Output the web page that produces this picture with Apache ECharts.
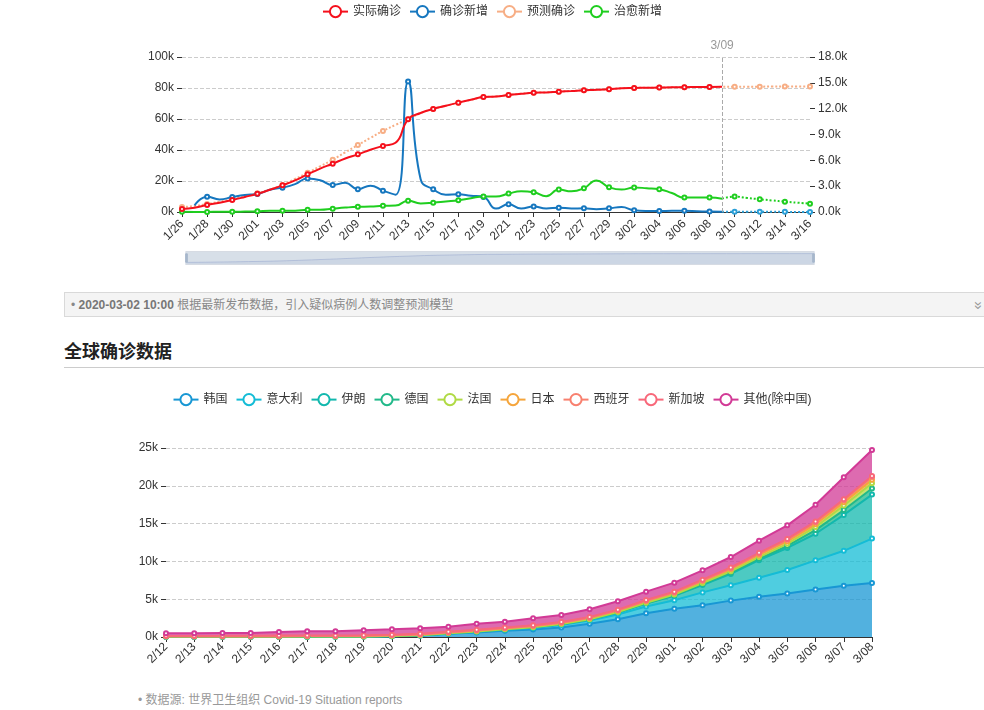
<!DOCTYPE html>
<html>
<head>
<meta charset="utf-8">
<title>疫情趋势</title>
<script src="https://cdn.jsdelivr.net/npm/echarts@6/dist/echarts.min.js"></script>
<style>
    html, body { margin: 0; padding: 0; background: #fff; overflow: hidden; }
    body { width: 984px; height: 710px; position: relative; font-family: "Liberation Sans", "Noto Sans CJK SC", sans-serif; }
    #trend { position: absolute; left: 0; top: 0; width: 984px; height: 285px; }
    #notice { position: absolute; left: 64px; top: 292px; width: 960px; height: 25px; line-height: 25px;
        background: #f4f4f4; border: 1px solid #d9d9d9; font-size: 12px; color: #888; box-sizing: border-box; padding-left: 6px; }
    #notice b { color: #777; }
    #notice .more { position: absolute; left: 910px; top: 0; color: #999; font-size: 15px; line-height: 25px;
        display: inline-block; transform: rotate(90deg); }
    #title { position: absolute; left: 64px; top: 338px; width: 960px; height: 29px; border-bottom: 1px solid #ccc;
        font-size: 18px; font-weight: bold; color: #222; line-height: 28px; }
    #world { position: absolute; left: 0; top: 380px; width: 984px; height: 300px; }
    #source { position: absolute; left: 138px; top: 690px; font-size: 12px; color: #999; }
</style>
</head>
<body>
<div id="trend"></div>
<div id="notice">• <b>2020-03-02 10:00</b> 根据最新发布数据，引入疑似病例人数调整预测模型<span class="more">»</span></div>
<div id="title">全球确诊数据</div>
<div id="world"></div>
<div id="source">• 数据源: 世界卫生组织 Covid-19 Situation reports</div>

<script>
var FONT = '"Liberation Sans", "Noto Sans CJK SC", sans-serif';

// ---- 国内趋势 ----
var days = ['1/26','1/27','1/28','1/29','1/30','1/31',
    '2/01','2/02','2/03','2/04','2/05','2/06','2/07','2/08','2/09','2/10',
    '2/11','2/12','2/13','2/14','2/15','2/16','2/17','2/18','2/19','2/20',
    '2/21','2/22','2/23','2/24','2/25','2/26','2/27','2/28','2/29',
    '3/01','3/02','3/03','3/04','3/05','3/06','3/07','3/08','3/09','3/10',
    '3/11','3/12','3/13','3/14','3/15','3/16'];

var actual = [1975,2744,4515,5974,7711,9692,
    11791,14380,17205,20438,24324,28018,31161,34546,37198,40171,
    42638,44653,59804,63851,66492,68500,70548,72436,74185,74576,
    75465,76288,76936,77150,77658,78064,78497,78824,79251,
    79824,80026,80151,80270,80409,80552,80651,80695,80735,null,
    null,null,null,null,null,null];

var predicted = [3200,3900,5200,6700,8300,10100,
    12100,14500,17500,21300,25300,29500,33700,38500,43200,47800,
    52300,56200,59804,63851,66492,68500,70548,72436,74185,74576,
    75465,76288,76936,77150,77658,78064,78497,78824,79251,
    79824,80026,80151,80270,80409,80552,80651,80695,80735,80800,
    80850,80880,80900,80920,80940,80950];

var newConfirmed = [null,769,1771,1459,1737,1982,
    2102,2590,2829,3235,3887,3694,3143,3399,2656,3062,
    2478,2015,15152,3800,2641,2009,2048,1886,1749,394,
    889,397,648,409,508,406,433,327,427,
    573,202,125,119,139,143,99,44,40,null,
    null,null,null,null,null,null];

var newConfirmedPred = [null,null,null,null,null,null,
    null,null,null,null,null,null,null,null,null,null,
    null,null,null,null,null,null,null,null,null,null,
    null,null,null,null,null,null,null,null,null,
    null,null,null,null,null,null,null,null,40,32,
    26,22,18,15,12,10];

var cured = [15,9,11,43,21,47,
    85,157,147,157,262,261,387,510,600,632,
    716,744,1310,1000,1080,1220,1360,1600,1790,1790,
    2140,2400,2290,1830,2600,2400,2760,3650,2880,
    2600,2840,2760,2640,2200,1670,1670,1670,1550,null,
    null,null,null,null,null,null];

var curedPred = [null,null,null,null,null,null,
    null,null,null,null,null,null,null,null,null,null,
    null,null,null,null,null,null,null,null,null,null,
    null,null,null,null,null,null,null,null,null,
    null,null,null,null,null,null,null,null,1550,1790,
    1630,1480,1340,1200,1080,970];

// ---- 全球 ----
var worldDays = ['2/12','2/13','2/14','2/15','2/16','2/17','2/18','2/19','2/20',
    '2/21','2/22','2/23','2/24','2/25','2/26','2/27','2/28','2/29',
    '3/01','3/02','3/03','3/04','3/05','3/06','3/07','3/08'];
var countries = ['韩国','意大利','伊朗','德国','法国','日本','西班牙','新加坡','其他(除中国)'];
var korea     = [28,28,28,28,29,30,31,51,104,204,433,602,833,977,1261,1766,2337,3150,3736,4212,4812,5328,5766,6284,6767,7134];
var italy     = [3,3,3,3,3,3,3,3,3,3,9,76,124,229,322,400,650,888,1128,1689,2036,2502,3089,3858,4636,5883];
var iran      = [0,0,0,0,0,0,0,0,2,5,18,28,43,61,95,141,245,388,593,978,1501,2336,2922,3513,4747,5823];
var germany   = [16,16,16,16,16,16,16,16,16,16,16,16,16,16,16,18,26,48,57,129,157,196,262,482,639,795];
var france    = [11,11,11,11,11,11,11,11,11,11,11,11,11,11,12,18,38,57,100,130,191,212,285,423,613,706];
var japan     = [28,29,33,41,53,59,65,73,85,93,105,132,144,157,164,186,210,230,239,254,268,284,317,349,408,455];
var spain     = [2,2,2,2,2,2,2,2,2,2,2,2,2,2,12,13,15,32,45,84,120,165,222,259,282,374];
var singapore = [47,50,58,67,72,75,77,81,84,85,86,89,89,90,91,93,96,98,102,106,108,110,112,117,130,138];
var others    = [355,350,380,365,474,554,550,643,703,731,690,804,768,927,937,1025,1103,1109,1190,1238,1387,1607,1795,2215,2898,3432];
var worldColors = ['#1897d4','#14bcd6','#12b8ae','#22b98a','#b0da45','#f5a53c','#f8806f','#f8687a','#d23a96'];

function kLabel(v) {
    return v / 1000 + 'k';
}

// 只在有标签的日期上画点
function halfSymbol(v, params) {
    return params.dataIndex % 2 === 0 ? 4 : 0;
}

function lineSeries(name, data, color, dotted, yIndex) {
    return {
        name: name, type: 'line', yAxisIndex: yIndex, data: data,
        smooth: true, symbol: 'emptyCircle', symbolSize: halfSymbol,
        itemStyle: {color: color, borderWidth: 1.5},
        lineStyle: {width: 2, color: color, type: dotted ? 'dotted' : 'solid'}
    };
}

function render_trend() {
    var myChart = echarts.init(document.getElementById('trend'));
    var real = lineSeries('实际确诊', actual, '#f5101c', false, 0);
    real.z = 3;
    real.markLine = {
        silent: true, symbol: 'none',
        lineStyle: {color: '#aaa', type: 'dashed', width: 1},
        label: {formatter: '3/09', color: '#999', fontSize: 12, position: 'end'},
        data: [{xAxis: '3/09'}]
    };
    var guess = lineSeries('预测确诊', predicted, '#f7ae85', true, 0);
    guess.z = 1;
    var option = {
        textStyle: {fontFamily: FONT},
        legend: {
            top: 0,
            data: ['实际确诊', '确诊新增', '预测确诊', '治愈新增'],
            lineStyle: {type: 'solid'},
            textStyle: {color: '#333', fontSize: 12}
        },
        grid: {left: 182, right: 174, top: 57, bottom: 73},
        xAxis: {
            type: 'category',
            boundaryGap: false,
            data: days,
            axisLine: {lineStyle: {color: '#333'}},
            axisTick: {interval: 1, lineStyle: {color: '#333'}},
            axisLabel: {interval: 1, rotate: 45, color: '#333', fontSize: 12, margin: 10}
        },
        yAxis: [{
            type: 'value', min: 0, max: 100000, interval: 20000,
            axisLine: {show: false},
            axisTick: {show: true, lineStyle: {color: '#333'}},
            axisLabel: {formatter: kLabel, color: '#333'},
            splitLine: {lineStyle: {type: 'dashed', color: '#ccc'}}
        }, {
            type: 'value', min: 0, max: 18000, interval: 3000,
            axisLine: {show: false},
            axisTick: {show: true, lineStyle: {color: '#333'}},
            axisLabel: {formatter: function (v) { return (v / 1000).toFixed(1) + 'k'; }, color: '#333'},
            splitLine: {show: false}
        }],
        dataZoom: [{
            type: 'slider', xAxisIndex: 0, start: 0, end: 100,
            left: 183, right: 172, top: 251, height: 14,
            showDetail: false, brushSelect: false, moveHandleSize: 0,
            borderColor: '#d6dbe3', borderRadius: 0,
            fillerColor: 'rgba(167,183,204,0.45)',
            handleIcon: 'path://M0,0 L2,0 L2,10 L0,10 Z',
            handleSize: '60%',
            handleStyle: {color: '#a7b7cc', borderColor: '#a7b7cc'},
            dataBackground: {
                lineStyle: {color: '#9aabc2', width: 0.6, opacity: 0.8},
                areaStyle: {color: '#b8c4d4', opacity: 0.4}
            }
        }],
        series: [
            guess,
            lineSeries('确诊新增', newConfirmed, '#1677bf', false, 1),
            lineSeries('确诊新增', newConfirmedPred, '#2a9fd8', true, 1),
            lineSeries('治愈新增', cured, '#1fce1f', false, 1),
            lineSeries('治愈新增', curedPred, '#1fce1f', true, 1),
            real
        ]
    };
    myChart.setOption(option);
}

function render_world() {
    var myChart = echarts.init(document.getElementById('world'));
    var values = [korea, italy, iran, germany, france, japan, spain, singapore, others];
    var series = [];
    for (var i = 0; i < countries.length; i++) {
        series.push({
            name: countries[i], type: 'line', stack: 'total', data: values[i],
            symbol: 'emptyCircle', symbolSize: 4,
            itemStyle: {color: worldColors[i], borderWidth: 1.5},
            lineStyle: {width: 2, color: worldColors[i]},
            areaStyle: {opacity: 0.75, color: worldColors[i]}
        });
    }
    var option = {
        textStyle: {fontFamily: FONT},
        legend: {top: 8, data: countries, textStyle: {color: '#333', fontSize: 12}},
        grid: {left: 166, right: 112, top: 68, bottom: 43},
        xAxis: {
            type: 'category', boundaryGap: false, data: worldDays,
            axisLine: {lineStyle: {color: '#333'}},
            axisTick: {lineStyle: {color: '#333'}},
            axisLabel: {interval: 0, rotate: 45, color: '#333', fontSize: 12, margin: 8}
        },
        yAxis: {
            type: 'value', min: 0, max: 25000, interval: 5000,
            axisLine: {show: false},
            axisTick: {show: true, lineStyle: {color: '#333'}},
            axisLabel: {formatter: kLabel, color: '#333'},
            splitLine: {lineStyle: {type: 'dashed', color: '#ccc'}}
        },
        series: series
    };
    myChart.setOption(option);
}

render_trend();
render_world();
</script>
</body>
</html>
